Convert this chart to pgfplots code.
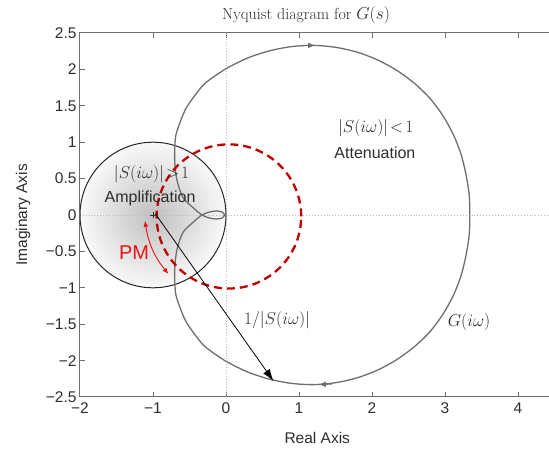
\documentclass[border=0pt]{standalone}
\usepackage{pgfplots}
\pgfplotsset{compat=1.18}
\usepackage{fontspec}
\setsansfont{Liberation Sans}
\usetikzlibrary{arrows.meta}
\definecolor{axgray}{RGB}{110,110,110}
\definecolor{txtgray}{RGB}{45,45,45}
\definecolor{curvegray}{RGB}{110,110,110}
\definecolor{pmred}{RGB}{190,0,0}
\definecolor{txtred}{RGB}{230,20,20}
\begin{document}
\begin{tikzpicture}[x=1pt,y=1pt]
\useasboundingbox (-80,-52) rectangle (469,397);
\begin{axis}[
  at={(0,0)}, anchor=south west,
  scale only axis, width=474.5pt, height=364pt,
  xmin=-2, xmax=4.5, ymin=-2.5, ymax=2.5,
  xtick={-2,-1,0,1,2,3,4},
  xticklabels={−2,−1,0,1,2,3,4},
  ytick={-2.5,-2,-1.5,-1,-0.5,0,0.5,1,1.5,2,2.5},
  yticklabels={−2.5,−2,−1.5,−1,−0.5,0,0.5,1,1.5,2,2.5},
  tick align=inside, xtick pos=both, ytick pos=both,
  major tick length=5pt,
  axis line style={axgray, line width=1pt},
  every tick/.style={axgray, line width=1pt},
  ticklabel style={font=\sffamily\fontsize{15.5}{18}\selectfont, text=txtgray},
  xticklabel style={yshift=-2pt},
  xlabel={Real Axis}, ylabel={Imaginary Axis},
  label style={font=\sffamily\fontsize{15.5}{18}\selectfont, text=txtgray},
  xlabel style={at={(axis description cs:0.5,0)}, anchor=center, yshift=-41pt},
  ylabel style={at={(axis description cs:0,0.5)}, anchor=center, rotate=0, yshift=57pt},
  clip=true,
]
% shaded amplification disc
\shade[inner color=gray!50, outer color=gray!5] (axis cs:-1,0) circle[radius=1];
% dotted zero lines
\draw[gray!55, dotted, line width=0.9pt] (axis cs:0,-2.5) -- (axis cs:0,2.5);
\draw[gray!55, dotted, line width=0.9pt] (axis cs:-2,0) -- (axis cs:4.5,0);
% unit circle around -1
\draw[gray!30!black, line width=1pt] (axis cs:-1,0) circle[radius=1];
% Nyquist curve G(i omega)
\addplot[curvegray, line width=1.3pt, smooth, tension=0.5] coordinates {
(-0.02,0) (-0.05,-0.04) (-0.13,-0.055) (-0.23,-0.04) (-0.33,0)
(-0.45,0.1) (-0.59,0.24) (-0.67,0.47) (-0.70,0.69) (-0.703,0.887) (-0.688,1.09)
(-0.627,1.279) (-0.547,1.466) (-0.433,1.633) (-0.304,1.793) (-0.142,1.917)
(0.03,2.026) (0.305,2.160) (0.596,2.255) (0.896,2.313) (1.2,2.33) (1.503,2.303)
(1.799,2.236) (2.081,2.128) (2.345,1.983) (2.585,1.805) (2.798,1.598)
(2.973,1.361) (3.114,1.105) (3.219,0.836) (3.287,0.559) (3.331,0.281) (3.34,0)
(3.331,-0.281) (3.287,-0.559) (3.219,-0.836) (3.114,-1.105) (2.973,-1.361)
(2.798,-1.598) (2.585,-1.805) (2.345,-1.983) (2.081,-2.128) (1.799,-2.236)
(1.503,-2.303) (1.2,-2.33) (0.896,-2.313) (0.596,-2.255) (0.305,-2.160)
(0.03,-2.026) (-0.142,-1.917) (-0.304,-1.793) (-0.433,-1.633) (-0.547,-1.466)
(-0.627,-1.279) (-0.688,-1.09) (-0.703,-0.887) (-0.70,-0.69) (-0.67,-0.47)
(-0.59,-0.24) (-0.45,-0.1) (-0.33,0)
(-0.23,0.04) (-0.13,0.055) (-0.05,0.04) (-0.02,0)
};
% direction arrows on the curve
\addplot[curvegray, line width=1.3pt, -{Latex[length=7pt,width=6pt]}] coordinates {(1.05,2.33) (1.22,2.33)};
\addplot[curvegray, line width=1.3pt, -{Latex[length=7pt,width=6pt]}] coordinates {(1.45,-2.32) (1.27,-2.33)};
% critical point marker
\addplot[only marks, mark=+, mark size=3pt, gray!40!black] coordinates {(-1,0)};
% red dashed unit circle
\draw[pmred, line width=2.3pt, dash pattern=on 8pt off 5pt] (axis cs:0.04,-0.02) circle[radius=0.99];
% 1/|S| arrow
\addplot[black, line width=0.8pt, -{Latex[length=12pt,width=8pt]}] coordinates {(-0.97,0.02) (0.65,-2.28)};
% PM arrow
\draw[txtred, line width=0.9pt, {Latex[length=6pt,width=5pt]}-{Latex[length=6pt,width=5pt]}] (axis cs:-1.11,-0.08) to[bend right=15] (axis cs:-0.79,-0.81);
% labels
\node[text=txtgray, font=\fontsize{16}{18}\selectfont] at (axis cs:-1.02,0.56) {$\bigl|S(i\omega)\bigr|\!>\!1$};
\node[text=txtgray, font=\sffamily\fontsize{16}{18}\selectfont] at (axis cs:-1.04,0.23) {Amplification};
\node[text=txtred, font=\sffamily\fontsize{20}{22}\selectfont] at (axis cs:-1.26,-0.52) {PM};
\node[text=txtgray, font=\fontsize{16}{18}\selectfont] at (axis cs:2.05,1.19) {$\bigl|S(i\omega)\bigr|\!<\!1$};
\node[text=txtgray, font=\sffamily\fontsize{16}{18}\selectfont] at (axis cs:2.04,0.86) {Attenuation};
\node[text=txtgray, font=\fontsize{16}{18}\selectfont] at (axis cs:0.70,-1.44) {$1/\bigl|S(i\omega)\bigr|$};
\node[text=txtgray, font=\fontsize{16}{18}\selectfont] at (axis cs:3.33,-1.47) {$G(i\omega)$};
\end{axis}
\node[text=txtgray, font=\fontsize{16}{18}\selectfont] at (226,382) {Nyquist diagram for $G(s)$};
\end{tikzpicture}
\end{document}
